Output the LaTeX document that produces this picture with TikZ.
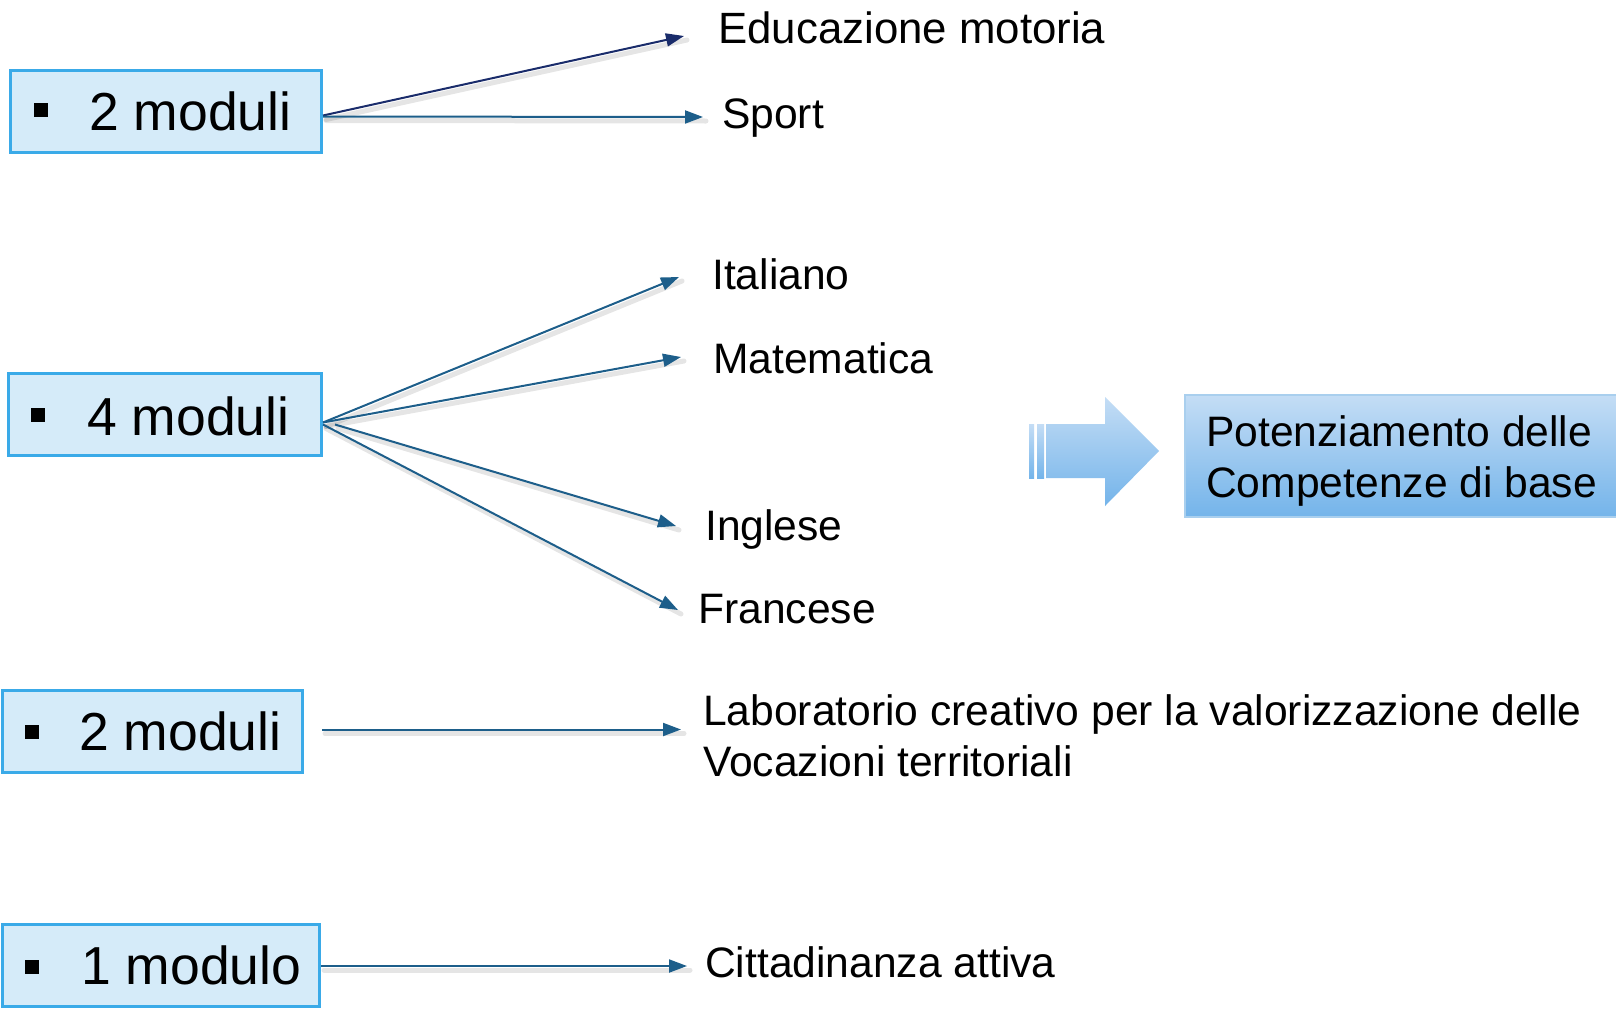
\documentclass[tikz,border=0pt]{standalone}
\usepackage{fontspec}
\setmainfont{Liberation Sans}
\usetikzlibrary{arrows.meta}
\definecolor{boxfill}{HTML}{D5EBF9}
\definecolor{boxline}{HTML}{3AAAE8}
\definecolor{navy}{HTML}{1A2C6B}
\definecolor{steel}{HTML}{1D5E8A}
\definecolor{shtop}{HTML}{C4DDF5}
\definecolor{shbot}{HTML}{74B4EA}
\definecolor{potline}{HTML}{A9CFEE}
\tikzset{
 modbox/.style={draw=boxline, fill=boxfill, line width=3pt, inner sep=0, minimum height=82pt},
 bul/.style={fill=black, inner sep=0, minimum size=14.5pt},
 modtxt/.style={font=\fontsize{53.5}{60}\selectfont, inner sep=0, anchor=west},
 lab/.style={font=\fontsize{42.6}{51}\selectfont, inner sep=0, anchor=base west, align=left},
 conn/.style={line width=2pt, -{Triangle[length=18pt,width=13pt]}},
 shad/.style={line width=5pt, draw=black, opacity=0.1, line cap=round},
}
\newcommand\myconn[3]{%
 \draw[shad, transform canvas={shift={(3pt,-4pt)}}] #2 -- #3;
 \draw[conn, draw=#1, fill=#1] #2 -- #3;
}
\begin{document}
\begin{tikzpicture}[x=1pt,y=-1pt]
\useasboundingbox (0,0) rectangle (1616,1009);
\fill[white] (0,0) rectangle (1616,1009);

% module boxes
\node[modbox, minimum width=311pt] (b1) at (166,111.5) {};
\node[modbox, minimum width=313pt] (b2) at (165,414.5) {};
\node[modbox, minimum width=300pt] (b3) at (152.5,731.5) {};
\node[modbox, minimum width=317pt] (b4) at (161,965) {};

\node[bul] (u1) at (41,110) {};
\node[bul] (u2) at (38,415) {};
\node[bul] (u3) at (32,732) {};
\node[bul] (u4) at (32,967) {};

\node[modtxt] (m1) at (89,111.5) {2 moduli};
\node[modtxt] (m2) at (87,416) {4 moduli};
\node[modtxt] (m3) at (79,731.5) {2 moduli};
\node[modtxt] (m4) at (81,965.5) {1 modulo};

% labels
\node[lab, font=\fontsize{43.8}{51}\selectfont] (edu) at (718,43) {Educazione motoria};
\node[lab] (spo) at (722,128) {Sport};
\node[lab] (ita) at (712,289) {Italiano};
\node[lab] (mat) at (713,373) {Matematica};
\node[lab] (ing) at (705,540) {Inglese};
\node[lab] (fra) at (698,623) {Francese};
\node[lab] (lab1) at (703,776) {Laboratorio creativo per la valorizzazione delle\\Vocazioni territoriali};
\node[lab] (cit) at (705,977) {Cittadinanza attiva};

% arrow tips
\coordinate (tEdu) at (684,36);
\coordinate (tSpo) at (703,117);
\coordinate (tIta) at (679,277);
\coordinate (tMat) at (681,357);
\coordinate (tIng) at (676,526);
\coordinate (tFra) at (678,610);
\coordinate (tLab) at (681,729.5);
\coordinate (tCit) at (687,966);

\myconn{navy}{([yshift=-4pt]b1.east)}{(tEdu)}
\myconn{steel}{([yshift=-5pt]b1.east)}{(tSpo)}
\myconn{steel}{([yshift=-8pt]b2.east)}{(tIta)}
\myconn{steel}{([yshift=-8pt]b2.east)}{(tMat)}
\myconn{steel}{([xshift=12pt,yshift=-10pt]b2.east)}{(tIng)}
\myconn{steel}{([yshift=-10pt]b2.east)}{(tFra)}
\myconn{steel}{([xshift=18pt,yshift=2pt]b3.east)}{(tLab)}
\myconn{steel}{([yshift=-1pt]b4.east)}{(tCit)}

% big striped arrow
\shade[top color=shtop, bottom color=shbot] (1046,424) -- (1105,424) -- (1105,397) -- (1159,451) -- (1105,506) -- (1105,478) -- (1046,478) -- cycle;
\shade[top color=shtop, bottom color=shbot] (1029,424) rectangle (1034,478);
\shade[top color=shtop, bottom color=shbot] (1037,424) rectangle (1044,478);

% result box
\node[draw=potline, line width=1.5pt, top color=shtop, bottom color=shbot, minimum width=440pt, minimum height=122pt, inner sep=0, anchor=north west] (potbox) at (1184,394) {};
\node[lab] (pot) at (1206,497) {Potenziamento delle\\Competenze di base};
\end{tikzpicture}
\end{document}
